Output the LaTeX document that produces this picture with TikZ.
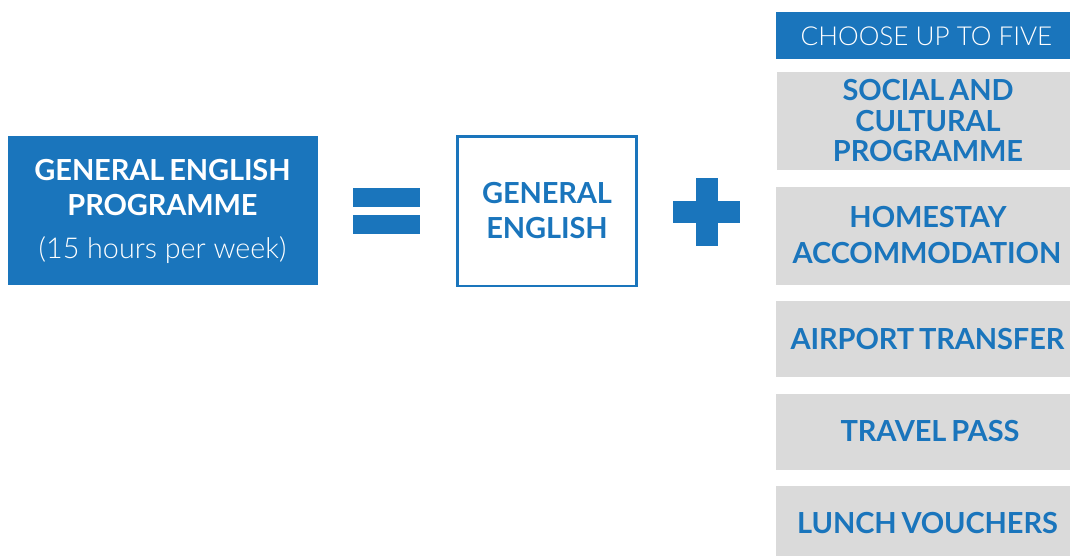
\documentclass[tikz,border=0pt]{standalone}
\usepackage{fontspec}
\setmainfont{Lato}[WordSpace=0.7,LetterSpace=-0.4]
\newfontfamily\lightfont{Lato Light}
\definecolor{brandblue}{HTML}{1A75BC}
\definecolor{panelgrey}{HTML}{DADADA}
\tikzset{
  px/.style={x=1pt,y=-1pt},
  bluebox/.style={fill=brandblue,draw=none},
  greybox/.style={fill=panelgrey,draw=none},
  lab/.style={anchor=base,inner sep=0pt,outer sep=0pt,font=\fontsize{29}{29}\selectfont\bfseries},
  whitelab/.style={lab,text=white},
  bluelab/.style={lab,text=brandblue},
  lightlab/.style={anchor=base,inner sep=0pt,outer sep=0pt,text=white,font=\fontsize{28.7}{29}\selectfont\lightfont},
  lightcaps/.style={lightlab,font=\fontsize{26.1}{27}\selectfont\lightfont},
}
\begin{document}
\begin{tikzpicture}[px]
\useasboundingbox (0,0) rectangle (1070,556);
\fill[bluebox] (8,136) rectangle (318,285);
\fill[bluebox] (353,188) rectangle (420,207);
\fill[bluebox] (353,215) rectangle (420,234);
\draw[brandblue,line width=2.8pt] (457.4,136.4) rectangle (636.6,286);
\fill[bluebox] (696,178) rectangle (718,246);
\fill[bluebox] (673,201) rectangle (740,223);
\fill[bluebox] (776,12) rectangle (1070,59);
\fill[greybox] (777,72) rectangle (1070,170);
\fill[greybox] (776,187) rectangle (1070,285);
\fill[greybox] (776,301) rectangle (1070,377);
\fill[greybox] (776,394) rectangle (1070,470);
\fill[greybox] (776,486) rectangle (1070,556);
\node[whitelab] (t1) at (162.5,180.6) {GENERAL ENGLISH};
\node[whitelab] (t2) at (162.5,215) {PROGRAMME};
\node[lightlab] (t3) at (162.5,258) {(15 hours per week)};
\node[bluelab] (g1) at (547,203.7) {GENERAL};
\node[bluelab] (g2) at (547,238) {ENGLISH};
\node[lightcaps] (c) at (926.5,45.5) {CHOOSE UP TO FIVE};
\node[bluelab] (s1) at (928,100.7) {SOCIAL AND};
\node[bluelab] (s2) at (928,131.7) {CULTURAL};
\node[bluelab] (s3) at (928,161.7) {PROGRAMME};
\node[bluelab] (h1) at (928,227) {HOMESTAY};
\node[bluelab] (h2) at (927,263) {ACCOMMODATION};
\node[bluelab] (a) at (927.5,349) {AIRPORT TRANSFER};
\node[bluelab] (v) at (930,441) {TRAVEL PASS};
\node[bluelab] (l) at (927.5,533) {LUNCH VOUCHERS};
\end{tikzpicture}
\end{document}
